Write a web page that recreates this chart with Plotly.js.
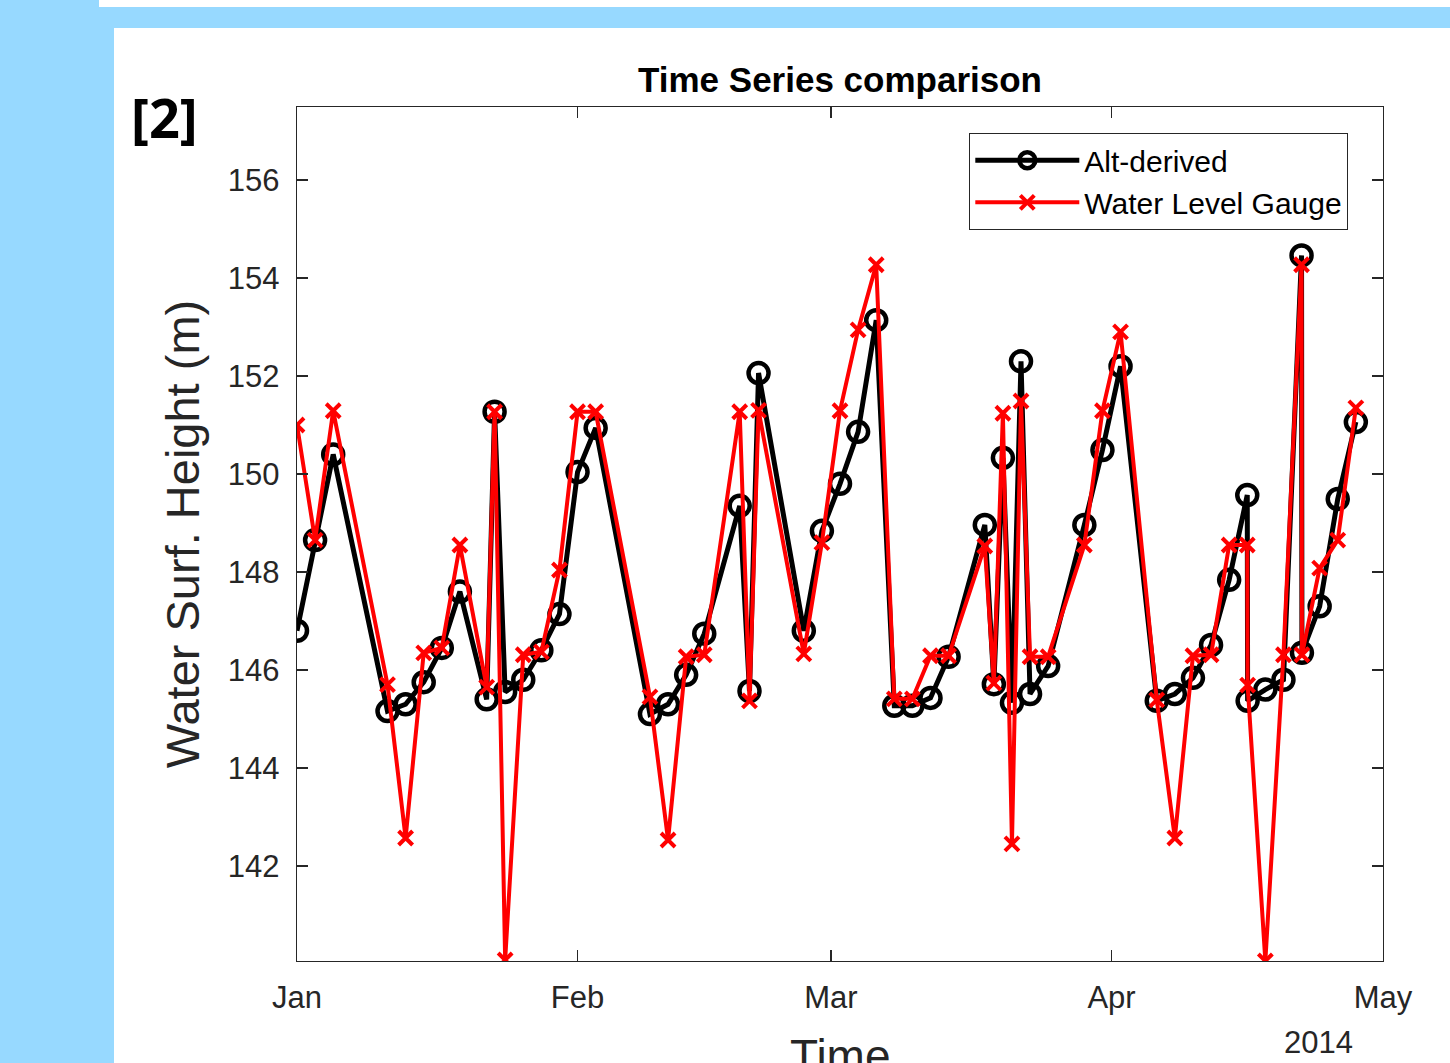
<!DOCTYPE html>
<html>
<head>
<meta charset="utf-8">
<script src="https://cdn.plot.ly/plotly-3.0.1.min.js"></script>
<style>
  html, body { margin:0; padding:0; width:1450px; height:1063px; overflow:hidden; background:#97d9ff; }
  #topstrip { position:absolute; left:99px; top:0; width:1351px; height:7px; background:#ffffff; }
  #panel { position:absolute; left:114px; top:28px; width:1336px; height:1035px; background:#ffffff; }
  #chart { position:absolute; left:0; top:0; width:1450px; height:1063px; }
</style>
</head>
<body>
<div id="topstrip"></div>
<div id="panel"></div>
<div id="chart"></div>
<script>
// Observation dates (2014)
const dates = [
  "2014-01-01", "2014-01-03", "2014-01-05", "2014-01-11", "2014-01-13", "2014-01-15",
  "2014-01-17", "2014-01-19", "2014-01-21 23:00", "2014-01-22 20:00", "2014-01-24", "2014-01-26",
  "2014-01-28", "2014-01-30", "2014-02-01", "2014-02-03", "2014-02-09", "2014-02-11",
  "2014-02-13", "2014-02-15", "2014-02-18 22:00", "2014-02-20", "2014-02-21", "2014-02-26",
  "2014-02-28", "2014-03-02", "2014-03-04", "2014-03-06", "2014-03-08", "2014-03-10",
  "2014-03-12", "2014-03-14", "2014-03-18", "2014-03-19", "2014-03-20", "2014-03-21",
  "2014-03-22", "2014-03-23", "2014-03-25", "2014-03-29", "2014-03-31", "2014-04-02",
  "2014-04-06", "2014-04-08", "2014-04-10", "2014-04-12", "2014-04-14", "2014-04-16",
  "2014-04-16 01:00", "2014-04-18", "2014-04-20", "2014-04-22", "2014-04-22 01:00", "2014-04-24",
  "2014-04-26", "2014-04-28"
];

// Altimetry-derived water surface height (m)
const altDerived = [
  146.8, 148.65, 150.4, 145.16, 145.3, 145.75,
  146.45, 147.6, 145.4, 151.27, 145.55, 145.8,
  146.4, 147.14, 150.04, 150.94, 145.1, 145.3,
  145.9, 146.74, 149.35, 145.57, 152.06, 146.8,
  148.84, 149.8, 150.86, 153.14, 145.27, 145.27,
  145.43, 146.27, 148.96, 145.71, 150.33, 145.33,
  152.3, 145.51, 146.08, 148.96, 150.49, 152.2,
  145.37, 145.51, 145.84, 146.51, 147.84, 149.57,
  145.37, 145.6, 145.8, 154.46, 146.35, 147.3,
  149.49, 151.06
];

// Water level gauge height (m)
const gauge = [
  151.0, 148.65, 151.29, 145.7, 142.57, 146.35,
  146.45, 148.55, 145.65, 151.27, 140.08, 146.31,
  146.37, 148.04, 151.27, 151.27, 145.45, 142.53,
  146.27, 146.31, 151.27, 145.37, 151.3, 146.33,
  148.6, 151.29, 152.94, 154.27, 145.41, 145.41,
  146.29, 146.29, 148.53, 145.73, 151.24, 142.45,
  151.49, 146.27, 146.27, 148.55, 151.29, 152.9,
  145.39, 142.57, 146.29, 146.31, 148.55, 148.55,
  145.69, 140.06, 146.31, 154.27, 146.31, 148.08,
  148.65, 151.35
];

const monthTicks = ["2014-01-01", "2014-02-01", "2014-03-01", "2014-04-01", "2014-05-01"];
const monthLabels = ["Jan", "Feb", "Mar", "Apr", "May"];
const yTicks = [142, 144, 146, 148, 150, 152, 154, 156];

const FONT = "'Liberation Sans', Arial, Helvetica, sans-serif";
const AX = "#262626";

const traces = [
  {
    x: dates, y: altDerived, name: "Alt-derived", type: "scatter", mode: "lines+markers",
    line: { color: "#000000", width: 5 },
    marker: { symbol: "circle-open", size: 20, color: "#000000", line: { width: 4.5, color: "#000000" } }
  },
  {
    x: dates, y: gauge, name: "Water Level Gauge", type: "scatter", mode: "lines+markers",
    line: { color: "#ff0000", width: 4 },
    marker: { symbol: "x-thin-open", size: 14, color: "#ff0000", line: { width: 4, color: "#ff0000" } }
  }
];

const layout = {
  width: 1450, height: 1063,
  margin: { l: 297, r: 67, t: 107, b: 102, pad: 0 },
  paper_bgcolor: "rgba(0,0,0,0)",
  plot_bgcolor: "#ffffff",
  font: { family: FONT, color: AX },
  showlegend: true,
  title: {
    text: "<b>Time Series comparison</b>",
    font: { family: FONT, size: 35, color: "#000000" },
    x: 0.5, xref: "paper", xanchor: "center",
    y: 1 - 80 / 1063, yref: "container", yanchor: "middle"
  },
  xaxis: {
    type: "date",
    range: ["2014-01-01", "2014-05-01"],
    tickvals: monthTicks, ticktext: monthLabels,
    ticks: "inside", ticklen: 11, tickwidth: 1.2, tickcolor: AX,
    showline: true, linecolor: AX, linewidth: 1.3, mirror: "ticks",
    showgrid: false, zeroline: false,
    tickfont: { family: FONT, size: 31, color: AX },
    ticklabelstandoff: 8
  },
  yaxis: {
    range: [140.06, 157.49],
    tickvals: yTicks,
    ticks: "inside", ticklen: 11, tickwidth: 1.2, tickcolor: AX,
    showline: true, linecolor: AX, linewidth: 1.3, mirror: "ticks",
    showgrid: false, zeroline: false,
    tickfont: { family: FONT, size: 31, color: AX },
    ticklabelstandoff: 10,
    title: { text: "Water Surf. Height (m)", font: { family: FONT, size: 47, color: AX }, standoff: 13 }
  },
  legend: {
    x: (969 - 297) / 1086, y: (961 - 133) / 854, xanchor: "left", yanchor: "top",
    bgcolor: "#ffffff", bordercolor: AX, borderwidth: 1.3,
    font: { family: FONT, size: 30, color: "#000000" },
    itemwidth: 104, tracegroupgap: 0
  },
  annotations: [
    {
      text: "Time", xref: "paper", yref: "paper",
      x: (840 - 297) / 1086, y: (961 - 1056) / 854, xanchor: "center", yanchor: "middle",
      showarrow: false, font: { family: FONT, size: 46, color: AX }
    },
    {
      text: "2014", xref: "paper", yref: "paper",
      x: (1318 - 297) / 1086, y: (961 - 1042) / 854, xanchor: "center", yanchor: "middle",
      showarrow: false, font: { family: FONT, size: 31, color: AX }
    },
    {
      text: "<b>[2]</b>", xref: "paper", yref: "paper",
      x: (164 - 297) / 1086, y: (961 - 117) / 854, xanchor: "center", yanchor: "middle",
      showarrow: false, font: { family: "'Open Sans', 'Liberation Sans', sans-serif", size: 54, color: "#000000" }
    }
  ]
};

Plotly.newPlot("chart", traces, layout, { displayModeBar: false, staticPlot: true });
</script>
</body>
</html>
